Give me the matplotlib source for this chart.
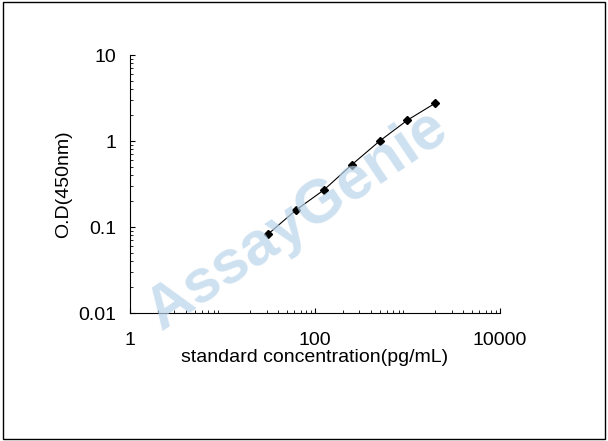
import matplotlib
matplotlib.use("Agg")
import matplotlib.pyplot as plt
from matplotlib.patches import Rectangle

plt.rcParams['font.family'] = ['Liberation Sans', 'DejaVu Sans']

conc = [31.25, 62.5, 125, 250, 500, 1000, 2000]
od = [0.083, 0.158, 0.27, 0.53, 1.0, 1.75, 2.76]
xticks = [1, 100, 10000]
xticklabels = ["1", "100", "10000"]
yticks = [0.01, 0.1, 1, 10]
yticklabels = ["0.01", "0.1", "1", "10"]

fig = plt.figure(figsize=(6.08, 4.41), dpi=100)
fig.patches.append(Rectangle((0.005, 0.005), 0.99, 0.99, transform=fig.transFigure,
                             fill=False, edgecolor="black", linewidth=1))
fig.text(0.49, 0.5, "AssayGenie", fontsize=44, fontweight="bold", color="#b9d4ea",
         alpha=0.7, rotation=34, ha="center", va="center", zorder=0)
ax = fig.add_axes([130/608, 1-313/441, 370/608, 258/441])
ax.patch.set_alpha(0)
ax.plot(conc, od, color="black", linewidth=0.8, marker="D", markersize=4)
ax.set_xscale("log")
ax.set_yscale("log")
ax.set_xlim(1, 10000)
ax.set_ylim(0.01, 10)
ax.set_xticks(xticks)
ax.set_xticklabels(xticklabels)
ax.set_yticks(yticks)
ax.set_yticklabels(yticklabels)
ax.tick_params(axis="both", which="both", direction="in", labelsize=14)
ax.tick_params(axis="x", pad=14)
ax.tick_params(axis="y", pad=10)
ax.spines["top"].set_visible(False)
ax.spines["right"].set_visible(False)
ax.set_xlabel("standard concentration(pg/mL)", fontsize=14, labelpad=0)
ax.set_ylabel("O.D(450nm)", fontsize=14, labelpad=4)
fig.savefig("out.png", dpi=100)
